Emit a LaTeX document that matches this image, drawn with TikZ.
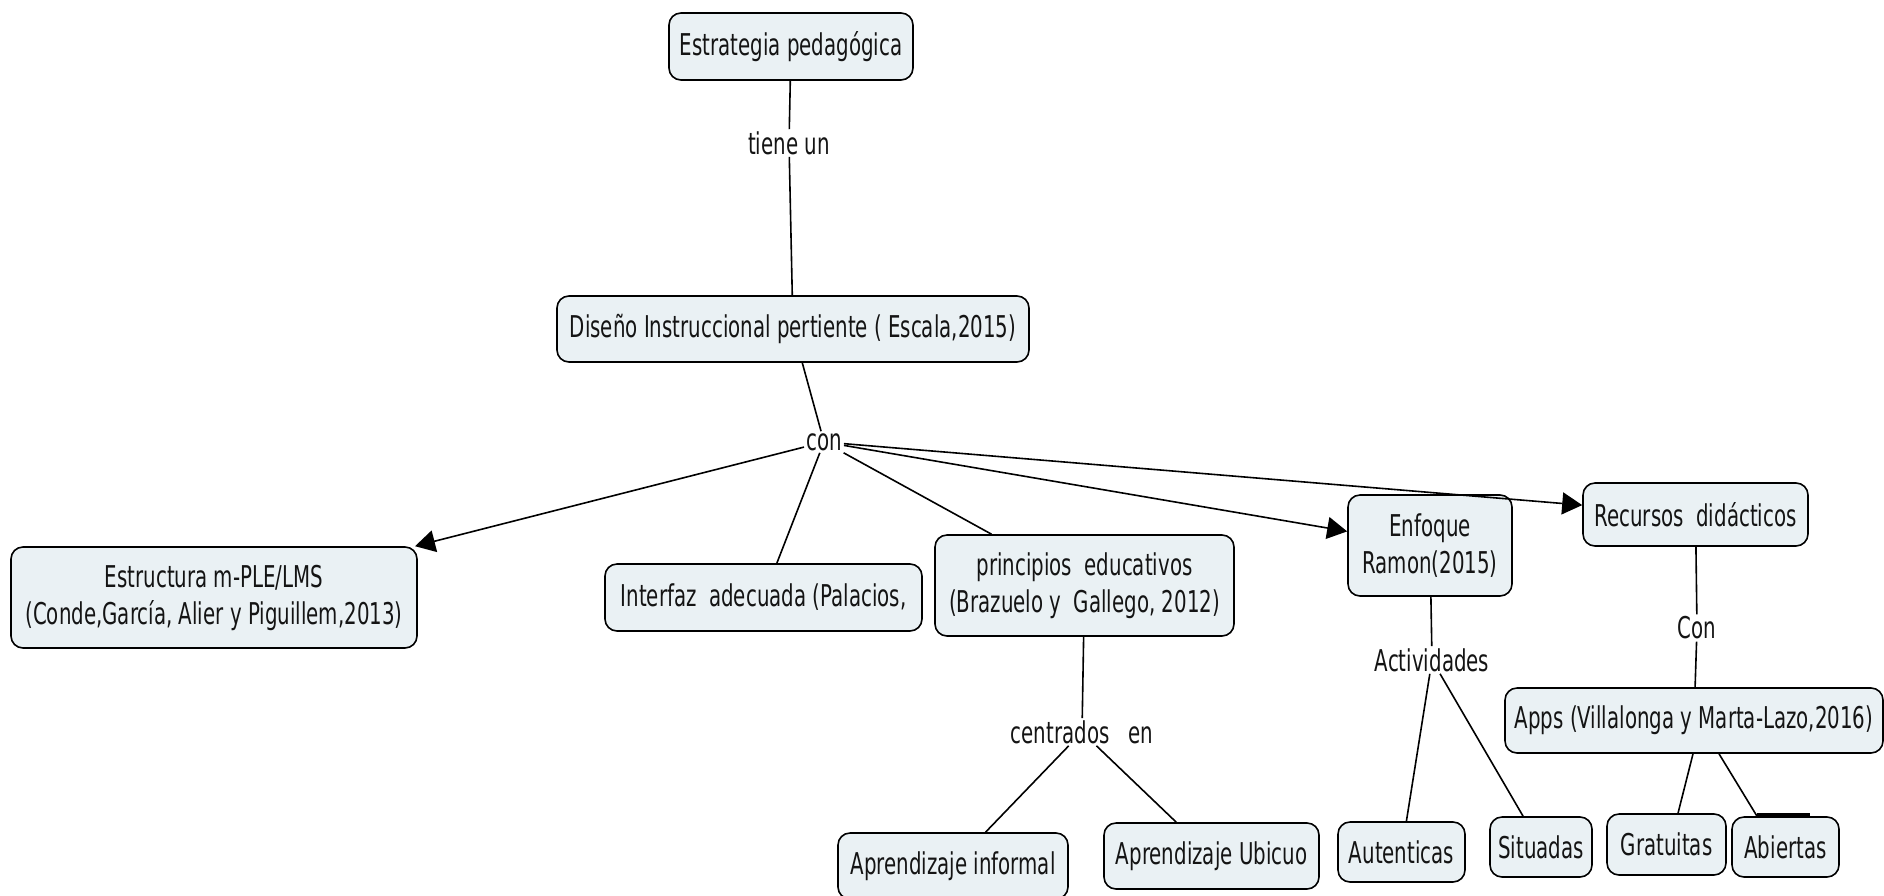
\documentclass[tikz,border=0pt]{standalone}
\usepackage{fontspec}
\setmainfont{DejaVu Sans}[FakeStretch=0.66]
\usetikzlibrary{arrows.meta}
\definecolor{boxfill}{RGB}{234,241,244}
\definecolor{ink}{RGB}{20,20,20}
\begin{document}
\begin{tikzpicture}[x=1pt,y=-1pt,
  concept/.style={draw=black, line width=1.6pt, fill=boxfill, rounded corners=12pt, align=center, inner sep=0pt, text=ink, font=\fontsize{30}{37}\selectfont},
  linkw/.style={inner sep=2pt, text=ink, font=\fontsize{30}{33}\selectfont},
  conn/.style={line width=1.6pt, draw=black},
  arr/.style={conn, -{Triangle[length=20pt,width=22pt]}}]
\useasboundingbox (0,0) rectangle (1884,895);
% concepts
\node[concept, minimum width=244pt, minimum height=67pt] (est) at (791,46.5) {Estrategia pedagógica};
\node[concept, minimum width=472pt, minimum height=66pt] (dis) at (793,329) {Diseño Instruccional pertiente ( Escala,2015)};
\node[concept, minimum width=406pt, minimum height=101pt] (estr) at (214,597.5) {Estructura m-PLE/LMS\\(Conde,García, Alier y Piguillem,2013)};
\node[concept, minimum width=317pt, minimum height=67pt] (int) at (763.5,597.5) {Interfaz\ \ adecuada (Palacios,};
\node[concept, minimum width=299pt, minimum height=101pt] (pri) at (1084.5,585.5) {principios\ \ educativos\\(Brazuelo y\ \ Gallego, 2012)};
\node[concept, minimum width=164pt, minimum height=101pt] (enf) at (1430,545.5) {Enfoque\\Ramon(2015)};
\node[concept, minimum width=225pt, minimum height=63pt] (rec) at (1695.5,514.5) {Recursos\ \ didácticos};
\node[concept, minimum width=378pt, minimum height=65pt] (apps) at (1694,720.5) {Apps (Villalonga y Marta-Lazo,2016)};
\node[concept, minimum width=230pt, minimum height=66pt] (inf) at (953,866) {Aprendizaje informal};
\node[concept, minimum width=215pt, minimum height=66pt] (ubi) at (1211.5,856) {Aprendizaje Ubicuo};
\node[concept, minimum width=127pt, minimum height=60pt] (aut) at (1401.5,852) {Autenticas};
\node[concept, minimum width=102pt, minimum height=60pt] (sit) at (1541,847) {Situadas};
\node[concept, minimum width=119pt, minimum height=61pt] (gra) at (1666.5,844.5) {Gratuitas};
\node[concept, minimum width=107pt, minimum height=60pt] (abi) at (1785.5,847) {Abiertas};
% linking words
\node[linkw] (tiene) at (789,143) {tiene un};
\node[linkw] (con) at (824,442) {con};
\node[linkw] (cen) at (1082,732) {centrados\ \ \ en};
\node[linkw] (act) at (1432,660) {Actividades};
\node[linkw] (Con) at (1697,628) {Con};
% connectors
\draw[conn] (est) -- (tiene);
\draw[conn] (tiene) -- (dis);
\draw[conn] (dis) -- (con);
\draw[arr] (con) -- (estr);
\draw[conn] (con) -- (int);
\draw[conn] (con) -- (pri);
\draw[arr] (con) -- (enf);
\draw[arr] (con) -- (rec);
\draw[conn] (pri) -- (cen);
\draw[conn] (cen) -- (inf);
\draw[conn] (cen) -- (ubi);
\draw[conn] (enf) -- (act);
\draw[conn] (act) -- (aut);
\draw[conn] (act) -- (sit);
\draw[conn] (rec) -- (Con);
\draw[conn] (Con) -- (apps);
\draw[conn] ([xshift=-1pt]apps.south) -- ([xshift=11.5pt]gra.north);
\draw[conn] ([xshift=25pt]apps.south) -- ([xshift=-28.5pt]abi.north);
\draw[line width=3.5pt] ([xshift=-28.5pt,yshift=1pt]abi.north) -- ([xshift=24pt,yshift=1pt]abi.north);
\end{tikzpicture}
\end{document}
